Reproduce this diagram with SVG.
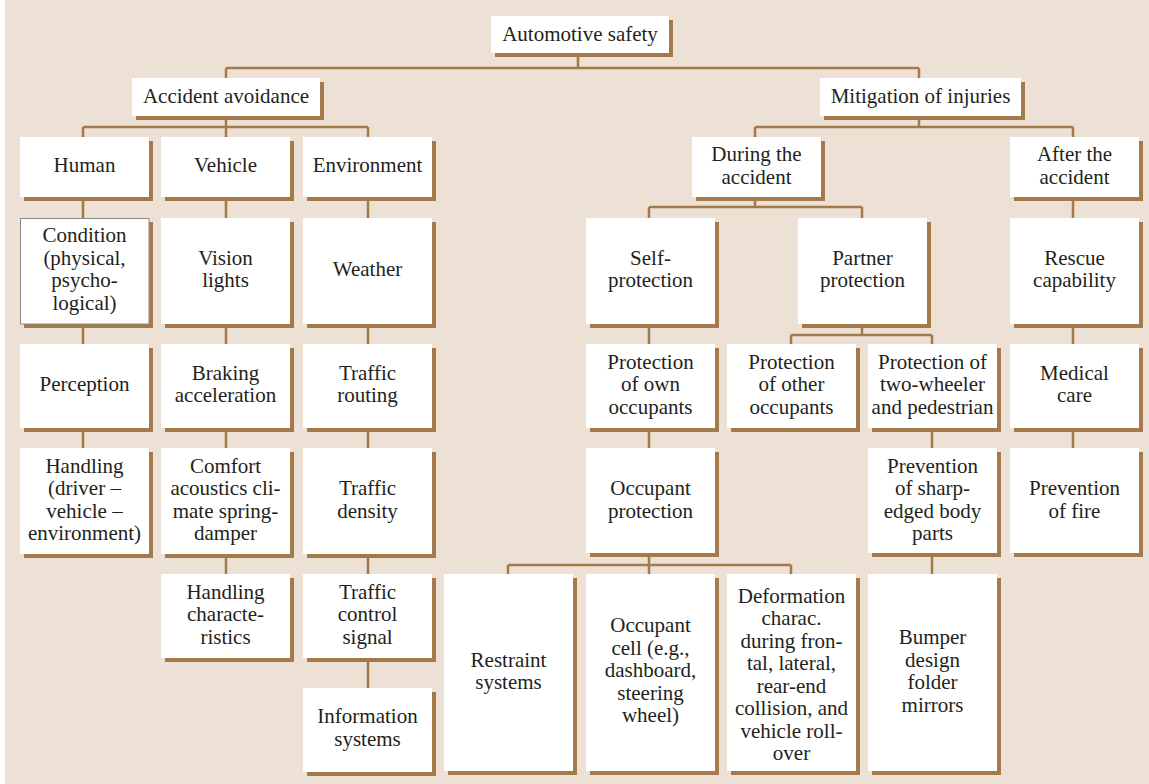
<svg xmlns="http://www.w3.org/2000/svg" width="1149" height="784" viewBox="0 0 1149 784">
  <style>
    .bg { fill: #ede0d4; }
    .shadow { fill: #a57a4a; }
    .box { fill: #ffffff; }
    .framed { stroke: #8a8a8a; stroke-width: 1; }
    .wire { fill: none; stroke: #a57a4a; stroke-width: 2.5; stroke-linecap: butt; }
    text { font-family: "Liberation Serif", "Times New Roman", serif; font-size: 21px; fill: #231f20; text-anchor: middle; }
  </style>

  <rect x="0" y="0" width="1149" height="784" fill="#ffffff"/>
  <rect class="bg" x="5" y="0" width="1144" height="784"/>

  <!-- connectors -->
  <g id="connectors" class="wire">
    <path d="M578 57V68M226 68H919M226 68V78M919 68V78"/>
    <path d="M226 120V127M83 127H368M83 127V137M226 127V137M368 127V137"/>
    <path d="M919 120V127M755 127H1073M755 127V137M1073 127V137"/>
    <path d="M755 201V207M649 207H862M649 207V218M862 207V218"/>
    <path d="M83 201V218M83 328V344M83 432V448"/>
    <path d="M226 201V218M226 328V344M226 432V448M226 557V574"/>
    <path d="M368 201V218M368 328V344M368 432V448M368 557V574M368 662V688"/>
    <path d="M649 328V344M649 432V448M649 557V565M508 565H791M508 565V574M649 565V574M791 565V574"/>
    <path d="M862 328V335M791 335H932M791 335V344M932 335V344"/>
    <path d="M932 432V448M932 557V574"/>
    <path d="M1073 201V218M1073 328V344M1073 432V448"/>
  </g>

  <!-- root -->
  <g id="automotive-safety">
    <rect class="shadow" x="495" y="20" width="178" height="37"/>
    <rect class="box" x="491" y="16" width="178" height="37"/>
    <text x="580" y="41">Automotive safety</text>
  </g>

  <!-- accident avoidance branch -->
  <g id="accident-avoidance">
    <rect class="shadow" x="136" y="82" width="188" height="38"/>
    <rect class="box" x="132" y="78" width="188" height="38"/>
    <text x="226" y="103">Accident avoidance</text>
  </g>
  <g id="human">
    <rect class="shadow" x="24" y="141" width="129" height="60"/>
    <rect class="box" x="20" y="137" width="129" height="60"/>
    <text x="84.5" y="172">Human</text>
  </g>
  <g id="vehicle">
    <rect class="shadow" x="165" y="141" width="129" height="60"/>
    <rect class="box" x="161" y="137" width="129" height="60"/>
    <text x="225.5" y="172">Vehicle</text>
  </g>
  <g id="environment">
    <rect class="shadow" x="307" y="141" width="129" height="60"/>
    <rect class="box" x="303" y="137" width="129" height="60"/>
    <text x="367.5" y="172">Environment</text>
  </g>

  <g id="condition">
    <rect class="shadow" x="24" y="222" width="129" height="106"/>
    <rect class="box framed" x="20.5" y="218.5" width="128.5" height="105.5"/>
    <text x="84.5" y="242">Condition</text>
    <text x="84.5" y="264.5">(physical,</text>
    <text x="84.5" y="287">psycho-</text>
    <text x="84.5" y="309.5">logical)</text>
  </g>
  <g id="vision-lights">
    <rect class="shadow" x="165" y="222" width="129" height="106"/>
    <rect class="box" x="161" y="218" width="129" height="106"/>
    <text x="225.5" y="264.5">Vision</text>
    <text x="225.5" y="287">lights</text>
  </g>
  <g id="weather">
    <rect class="shadow" x="307" y="222" width="129" height="106"/>
    <rect class="box" x="303" y="218" width="129" height="106"/>
    <text x="367.5" y="276">Weather</text>
  </g>

  <g id="perception">
    <rect class="shadow" x="24" y="348" width="129" height="84"/>
    <rect class="box" x="20" y="344" width="129" height="84"/>
    <text x="84.5" y="391">Perception</text>
  </g>
  <g id="braking">
    <rect class="shadow" x="165" y="348" width="129" height="84"/>
    <rect class="box" x="161" y="344" width="129" height="84"/>
    <text x="225.5" y="379.5">Braking</text>
    <text x="225.5" y="402">acceleration</text>
  </g>
  <g id="traffic-routing">
    <rect class="shadow" x="307" y="348" width="129" height="84"/>
    <rect class="box" x="303" y="344" width="129" height="84"/>
    <text x="367.5" y="379.5">Traffic</text>
    <text x="367.5" y="402">routing</text>
  </g>

  <g id="handling">
    <rect class="shadow" x="24" y="452" width="129" height="106"/>
    <rect class="box" x="20" y="448" width="129" height="106"/>
    <text x="84.5" y="472.5">Handling</text>
    <text x="84.5" y="495">(driver –</text>
    <text x="84.5" y="517.5">vehicle –</text>
    <text x="84.5" y="540">environment)</text>
  </g>
  <g id="comfort">
    <rect class="shadow" x="165" y="452" width="129" height="106"/>
    <rect class="box" x="161" y="448" width="129" height="106"/>
    <text x="225.5" y="472.5">Comfort</text>
    <text x="225.5" y="495">acoustics cli-</text>
    <text x="225.5" y="517.5">mate spring-</text>
    <text x="225.5" y="540">damper</text>
  </g>
  <g id="traffic-density">
    <rect class="shadow" x="307" y="452" width="129" height="106"/>
    <rect class="box" x="303" y="448" width="129" height="106"/>
    <text x="367.5" y="495">Traffic</text>
    <text x="367.5" y="517.5">density</text>
  </g>

  <g id="handling-characteristics">
    <rect class="shadow" x="165" y="578" width="129" height="84"/>
    <rect class="box" x="161" y="574" width="129" height="84"/>
    <text x="225.5" y="598.5">Handling</text>
    <text x="225.5" y="621">characte-</text>
    <text x="225.5" y="643.5">ristics</text>
  </g>
  <g id="traffic-control">
    <rect class="shadow" x="307" y="578" width="129" height="84"/>
    <rect class="box" x="303" y="574" width="129" height="84"/>
    <text x="367.5" y="598.5">Traffic</text>
    <text x="367.5" y="621">control</text>
    <text x="367.5" y="643.5">signal</text>
  </g>
  <g id="information-systems">
    <rect class="shadow" x="307" y="692" width="129" height="84"/>
    <rect class="box" x="303" y="688" width="129" height="84"/>
    <text x="367.5" y="723">Information</text>
    <text x="367.5" y="745.5">systems</text>
  </g>

  <!-- mitigation branch -->
  <g id="mitigation">
    <rect class="shadow" x="824" y="82" width="201" height="38"/>
    <rect class="box" x="820" y="78" width="201" height="38"/>
    <text x="920.5" y="103">Mitigation of injuries</text>
  </g>
  <g id="during">
    <rect class="shadow" x="696" y="141" width="129" height="60"/>
    <rect class="box" x="692" y="137" width="129" height="60"/>
    <text x="756.5" y="161">During the</text>
    <text x="756.5" y="183.5">accident</text>
  </g>
  <g id="after">
    <rect class="shadow" x="1014" y="141" width="129" height="60"/>
    <rect class="box" x="1010" y="137" width="129" height="60"/>
    <text x="1074.5" y="161">After the</text>
    <text x="1074.5" y="183.5">accident</text>
  </g>

  <g id="self-protection">
    <rect class="shadow" x="590" y="222" width="129" height="106"/>
    <rect class="box" x="586" y="218" width="129" height="106"/>
    <text x="650.5" y="264.5">Self-</text>
    <text x="650.5" y="287">protection</text>
  </g>
  <g id="partner-protection">
    <rect class="shadow" x="802" y="222" width="129" height="106"/>
    <rect class="box" x="798" y="218" width="129" height="106"/>
    <text x="862.5" y="264.5">Partner</text>
    <text x="862.5" y="287">protection</text>
  </g>
  <g id="rescue">
    <rect class="shadow" x="1014" y="222" width="129" height="106"/>
    <rect class="box" x="1010" y="218" width="129" height="106"/>
    <text x="1074.5" y="264.5">Rescue</text>
    <text x="1074.5" y="287">capability</text>
  </g>

  <g id="own-occupants">
    <rect class="shadow" x="590" y="348" width="129" height="84"/>
    <rect class="box" x="586" y="344" width="129" height="84"/>
    <text x="650.5" y="368.5">Protection</text>
    <text x="650.5" y="391">of own</text>
    <text x="650.5" y="413.5">occupants</text>
  </g>
  <g id="other-occupants">
    <rect class="shadow" x="731" y="348" width="129" height="84"/>
    <rect class="box" x="727" y="344" width="129" height="84"/>
    <text x="791.5" y="368.5">Protection</text>
    <text x="791.5" y="391">of other</text>
    <text x="791.5" y="413.5">occupants</text>
  </g>
  <g id="two-wheeler">
    <rect class="shadow" x="872" y="348" width="129" height="84"/>
    <rect class="box" x="868" y="344" width="129" height="84"/>
    <text x="932.5" y="368.5">Protection of</text>
    <text x="932.5" y="391">two-wheeler</text>
    <text x="932.5" y="413.5">and pedestrian</text>
  </g>
  <g id="medical-care">
    <rect class="shadow" x="1014" y="348" width="129" height="84"/>
    <rect class="box" x="1010" y="344" width="129" height="84"/>
    <text x="1074.5" y="379.5">Medical</text>
    <text x="1074.5" y="402">care</text>
  </g>

  <g id="occupant-protection">
    <rect class="shadow" x="590" y="452" width="129" height="105"/>
    <rect class="box" x="586" y="448" width="129" height="105"/>
    <text x="650.5" y="495">Occupant</text>
    <text x="650.5" y="517.5">protection</text>
  </g>
  <g id="sharp-edged">
    <rect class="shadow" x="872" y="452" width="129" height="105"/>
    <rect class="box" x="868" y="448" width="129" height="105"/>
    <text x="932.5" y="472.5">Prevention</text>
    <text x="932.5" y="495">of sharp-</text>
    <text x="932.5" y="517.5">edged body</text>
    <text x="932.5" y="540">parts</text>
  </g>
  <g id="fire">
    <rect class="shadow" x="1014" y="452" width="129" height="105"/>
    <rect class="box" x="1010" y="448" width="129" height="105"/>
    <text x="1074.5" y="495">Prevention</text>
    <text x="1074.5" y="517.5">of fire</text>
  </g>

  <g id="restraint">
    <rect class="shadow" x="448" y="578" width="129" height="197"/>
    <rect class="box" x="444" y="574" width="129" height="197"/>
    <text x="508.5" y="666.5">Restraint</text>
    <text x="508.5" y="689">systems</text>
  </g>
  <g id="occupant-cell">
    <rect class="shadow" x="590" y="578" width="129" height="197"/>
    <rect class="box" x="586" y="574" width="129" height="197"/>
    <text x="650.5" y="632">Occupant</text>
    <text x="650.5" y="654.5">cell (e.g.,</text>
    <text x="650.5" y="677">dashboard,</text>
    <text x="650.5" y="699.5">steering</text>
    <text x="650.5" y="722">wheel)</text>
  </g>
  <g id="deformation">
    <rect class="shadow" x="731" y="578" width="129" height="197"/>
    <rect class="box" x="727" y="574" width="129" height="197"/>
    <text x="791.5" y="602.5">Deformation</text>
    <text x="791.5" y="625">charac.</text>
    <text x="791.5" y="647.5">during fron-</text>
    <text x="791.5" y="670">tal, lateral,</text>
    <text x="791.5" y="692.5">rear-end</text>
    <text x="791.5" y="715">collision, and</text>
    <text x="791.5" y="737.5">vehicle roll-</text>
    <text x="791.5" y="760">over</text>
  </g>
  <g id="bumper">
    <rect class="shadow" x="872" y="578" width="129" height="197"/>
    <rect class="box" x="868" y="574" width="129" height="197"/>
    <text x="932.5" y="644">Bumper</text>
    <text x="932.5" y="666.5">design</text>
    <text x="932.5" y="689">folder</text>
    <text x="932.5" y="711.5">mirrors</text>
  </g>
</svg>
